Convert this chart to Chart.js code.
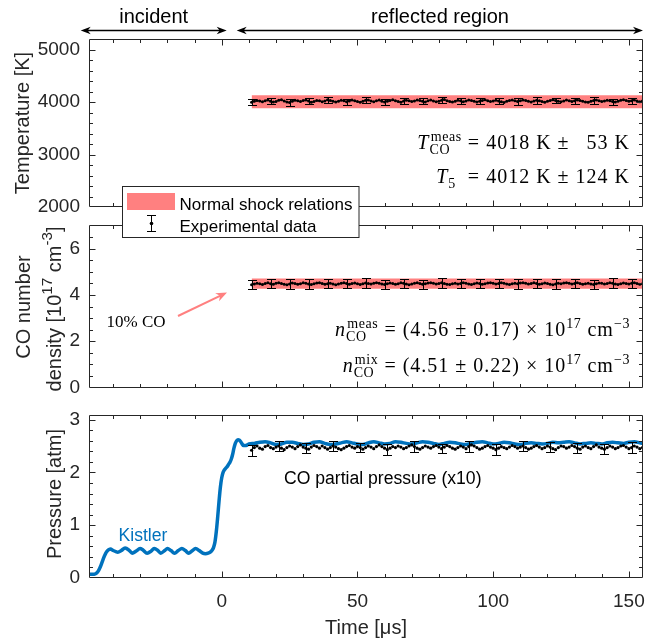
<!DOCTYPE html>
<html><head><meta charset="utf-8">
<script src="https://cdn.jsdelivr.net/npm/chart.js@4.4.1/dist/chart.umd.min.js"></script>
<style>
html,body{margin:0;padding:0;background:#fff;}
#wrap{position:relative;width:665px;height:642px;overflow:hidden;background:#fff;}
canvas{position:absolute;left:0;}
</style></head><body>
<div id="wrap">
<canvas id="c3" width="665" height="247" style="top:395px;z-index:1"></canvas>
<canvas id="c2" width="665" height="203" style="top:205px;z-index:2"></canvas>
<canvas id="c1" width="665" height="245" style="top:0px;z-index:3"></canvas>
</div>
<script>
// ---------------- data ----------------
const measStart = 11; // first measured time [μs], 1 μs spacing
const temperatureK = [
 3995,4012,4030,4018,4005,4026,4040,4015,3998,4010,
 4032,4045,4020,4002,3990,4015,4035,4022,4008,4028,
 4040,4018,3996,4010,4030,4024,4006,4020,4042,4030,
 4012,3998,4016,4034,4026,4004,4018,4038,4022,4008,
 3994,4014,4032,4040,4020,4006,4024,4036,4016,4000,
 4012,4030,4044,4026,4010,3996,4018,4034,4024,4008,
 4020,4040,4028,4012,4002,4022,4038,4018,4004,4016,
 4034,4046,4026,4010,3998,4014,4032,4022,4006,4020,
 4036,4028,4012,4000,4016,4030,4042,4024,4008,4018,
 4034,4020,4004,3992,4012,4028,4038,4022,4010,4026,
 4040,4030,4014,4000,4018,4032,4024,4008,3996,4014,
 4030,4044,4028,4012,4004,4020,4036,4026,4010,4022,
 4038,4030,4016,4002,3994,4012,4028,4040,4024,4010,
 4018,4034,4026,4008,4000,4016,4032,4044,4028,4014,
 4022,4036,4020,4006,4018];
const numberDensity = [
 4.44,4.47,4.50,4.48,4.45,4.49,4.52,4.48,4.46,4.50,
 4.53,4.49,4.46,4.44,4.47,4.51,4.49,4.46,4.48,4.52,
 4.50,4.47,4.45,4.48,4.51,4.53,4.49,4.46,4.48,4.50,
 4.47,4.44,4.47,4.50,4.52,4.49,4.46,4.49,4.51,4.48,
 4.45,4.48,4.51,4.49,4.47,4.50,4.53,4.50,4.47,4.45,
 4.48,4.51,4.49,4.46,4.48,4.52,4.50,4.47,4.44,4.47,
 4.50,4.52,4.49,4.46,4.48,4.51,4.53,4.50,4.47,4.49,
 4.52,4.49,4.46,4.45,4.48,4.50,4.47,4.49,4.52,4.50,
 4.47,4.45,4.48,4.51,4.49,4.46,4.48,4.51,4.53,4.50,
 4.47,4.49,4.52,4.50,4.47,4.45,4.48,4.50,4.48,4.51,
 4.53,4.50,4.47,4.49,4.52,4.49,4.46,4.48,4.51,4.49,
 4.46,4.44,4.47,4.50,4.48,4.51,4.53,4.50,4.47,4.49,
 4.52,4.49,4.46,4.48,4.50,4.47,4.45,4.48,4.51,4.50,
 4.47,4.49,4.52,4.50,4.47,4.45,4.48,4.51,4.49,4.47,
 4.50,4.52,4.49,4.46,4.48];
const coPartialPressure = [
 2.42,2.47,2.50,2.46,2.44,2.49,2.51,2.47,2.45,2.48,
 2.50,2.46,2.43,2.47,2.50,2.48,2.45,2.49,2.52,2.48,
 2.46,2.44,2.48,2.51,2.49,2.46,2.50,2.47,2.44,2.47,
 2.50,2.48,2.45,2.43,2.46,2.49,2.51,2.48,2.46,2.49,
 2.47,2.44,2.47,2.50,2.48,2.45,2.49,2.52,2.49,2.46,
 2.43,2.46,2.49,2.47,2.50,2.48,2.45,2.47,2.50,2.52,
 2.49,2.46,2.44,2.47,2.50,2.48,2.46,2.49,2.51,2.48,
 2.45,2.48,2.51,2.49,2.46,2.44,2.47,2.50,2.48,2.45,
 2.49,2.52,2.50,2.47,2.44,2.46,2.49,2.51,2.48,2.46,
 2.43,2.46,2.49,2.47,2.45,2.48,2.51,2.49,2.46,2.48,
 2.50,2.47,2.44,2.46,2.49,2.51,2.48,2.45,2.47,2.50,
 2.48,2.45,2.43,2.47,2.50,2.49,2.46,2.48,2.51,2.49,
 2.46,2.44,2.48,2.50,2.47,2.45,2.49,2.52,2.48,2.46,
 2.44,2.47,2.50,2.48,2.45,2.47,2.50,2.51,2.48,2.45,
 2.47,2.50,2.48,2.45,2.47];
const measTime = temperatureK.map((_, i) => measStart + i);

// error bars (half widths), one every 7 points (T, n) and every 10 points (p)
const errEveryTN = 7, errEveryP = 10;
const errTemperature = [60,55,58,62,57,60,56,59,63,58,55,61,57,60,58,62,56,59,61,57,60];
const errDensity = [0.20,0.19,0.21,0.20,0.19,0.20,0.21,0.20,0.19,0.20,0.21,0.19,0.20,0.20,0.21,0.19,0.20,0.20,0.19,0.21,0.20];
const errPressure = [0.10,0.09,0.10,0.10,0.09,0.10,0.10,0.09,0.10,0.10,0.09,0.10,0.10,0.09,0.10];

// normal shock relation bands [low, high]
const bandStart = 11;
const shockBandT = [3880, 4128];
const shockBandN = [4.27, 4.71];

// Kistler pressure trace [time μs, pressure atm]
const kistler = [
 [-48.9,0.07],[-48,0.07],[-47,0.07],[-46.5,0.08],[-46,0.10],[-45.5,0.13],[-45,0.18],[-44.5,0.24],
 [-44,0.31],[-43.5,0.38],[-43,0.44],[-42.5,0.49],[-42,0.52],[-41.5,0.54],[-41,0.55],[-40,0.52],
 [-39,0.50],[-38.3,0.49],[-37,0.52],[-35.6,0.57],[-34,0.52],[-33,0.47],[-31.5,0.51],[-30.1,0.56],
 [-29,0.53],[-27.5,0.47],[-26,0.51],[-24.9,0.56],[-23.5,0.52],[-22.5,0.47],[-21,0.52],[-20,0.56],
 [-18.7,0.52],[-17.4,0.47],[-16,0.52],[-14.7,0.56],[-13.4,0.52],[-12.2,0.47],[-11,0.51],[-9.6,0.56],
 [-8.3,0.52],[-7,0.47],[-6,0.46],[-5,0.47],[-4,0.50],[-3.5,0.53],[-3,0.58],[-2.5,0.68],
 [-2,0.88],[-1.5,1.15],[-1,1.45],[-0.5,1.72],[0,1.90],[0.5,2.00],[1,2.05],[1.5,2.08],
 [2,2.11],[2.5,2.15],[3,2.19],[3.5,2.25],[4,2.34],[4.5,2.46],[5,2.55],[5.5,2.60],
 [6,2.62],[6.5,2.61],[7,2.58],[7.5,2.54],[8,2.51],[9,2.51],[10,2.54],
 [12,2.55],[14,2.57],[16,2.58],[18,2.56],[20,2.53],[22,2.54],[24,2.57],[26,2.57],[28,2.55],[30,2.53],
 [32,2.54],[34,2.57],[36,2.58],[38,2.55],[40,2.53],[42,2.54],[44,2.56],[46,2.58],[48,2.56],[50,2.54],
 [52,2.53],[54,2.56],[56,2.58],[58,2.56],[60,2.54],[62,2.55],[64,2.58],[66,2.57],[68,2.55],[70,2.54],
 [72,2.56],[74,2.58],[76,2.57],[78,2.55],[80,2.53],[82,2.55],[84,2.57],[86,2.56],[88,2.54],[90,2.53],
 [92,2.55],[94,2.57],[96,2.58],[98,2.56],[100,2.54],[102,2.55],[104,2.57],[106,2.56],[108,2.54],[110,2.53],
 [112,2.55],[114,2.56],[116,2.55],[118,2.54],[120,2.55],[122,2.57],[124,2.56],[126,2.57],[128,2.58],[130,2.56],
 [132,2.54],[134,2.55],[136,2.56],[138,2.55],[140,2.54],[142,2.56],[144,2.57],[146,2.56],[148,2.55],[150,2.57],
 [152,2.58],[154,2.56],[155.2,2.55]];

// axes
const xMin = -48.9, xMax = 155.2;
const xTickLabels = [0, 50, 100, 150];
const yTicksT = [2000, 3000, 4000, 5000];
const yTicksN = [0, 2, 4, 6];
const yTicksP = [0, 1, 2, 3];

// ---------------- helpers ----------------
function range(a, b, s) { const r = []; for (let v = a; v <= b + 1e-9; v += s) r.push(+v.toFixed(4)); return r; }
const notIn = arr => v => !arr.some(m => Math.abs(m - v) < 1e-6);
const xMinorTicks = range(-40, 150, 10).filter(notIn(xTickLabels));
const SANS = '"Liberation Sans", Arial, sans-serif';
const SERIF = '"Liberation Serif", "Times New Roman", serif';
const INK = '#262626';

function drawFrame(chart, yMaj, yMin) {
  const ctx = chart.ctx, a = chart.chartArea, xs = chart.scales.x, ys = chart.scales.y;
  const L = Math.round(a.left) + 0.5, R = Math.round(a.right) - 0.5, T = Math.round(a.top) + 0.5, B = Math.round(a.bottom) - 0.5;
  ctx.save(); ctx.strokeStyle = INK; ctx.lineWidth = 1; ctx.beginPath();
  const xt = (vals, len) => vals.forEach(v => { const p = Math.round(xs.getPixelForValue(v)) + 0.5; ctx.moveTo(p, B); ctx.lineTo(p, B - len); ctx.moveTo(p, T); ctx.lineTo(p, T + len); });
  const yt = (vals, len) => vals.forEach(v => { const p = Math.round(ys.getPixelForValue(v)) + 0.5; if (p < T + 1 || p > B - 1) return; ctx.moveTo(L, p); ctx.lineTo(L + len, p); ctx.moveTo(R, p); ctx.lineTo(R - len, p); });
  xt(xTickLabels, 6); xt(xMinorTicks, 3.5); yt(yMaj, 6); yt(yMin, 3.5);
  ctx.rect(L, T, R - L, B - T);
  ctx.stroke(); ctx.restore();
}
function drawErrors(chart, vals, errs, every) {
  const ctx = chart.ctx, xs = chart.scales.x, ys = chart.scales.y;
  ctx.save(); ctx.strokeStyle = '#000'; ctx.lineWidth = 1; ctx.beginPath();
  errs.forEach((e, k) => {
    const i = k * every; const x = Math.round(xs.getPixelForValue(measTime[i])) + 0.5;
    const y1 = Math.round(ys.getPixelForValue(vals[i] - e)) + 0.5, y2 = Math.round(ys.getPixelForValue(vals[i] + e)) + 0.5;
    ctx.moveTo(x, y1); ctx.lineTo(x, y2);
    ctx.moveTo(x - 4.5, y1); ctx.lineTo(x + 4.5, y1); ctx.moveTo(x - 4.5, y2); ctx.lineTo(x + 4.5, y2);
  });
  ctx.stroke(); ctx.restore();
}
// spaced text (serif math look is wider than Times)
function spaced(ctx, s, x, y, ls, dry) {
  let w = 0;
  for (const ch of s) { if (!dry) ctx.fillText(ch, x + w, y); w += ctx.measureText(ch).width + ls; }
  return w;
}
function runMath(ctx, parts, x0, base, size, dry) {
  let x = x0; const ss = size * 0.7; const LS = 1.0, LSS = 0.6;
  for (const p of parts) {
    if (p.t !== undefined) {
      ctx.font = (p.it ? 'italic ' : '') + size + 'px ' + SERIF;
      x += spaced(ctx, p.t, x, base, LS, dry);
    } else if (p.gap) { x += p.gap * size + LS; }
    else {
      ctx.font = ss + 'px ' + SERIF; let w = 0;
      if (p.sup) { const dx = p.sub ? size * 0.06 : 0; w = Math.max(w, spaced(ctx, p.sup, x + dx, base - size * 0.42, LSS, dry) + dx); }
      if (p.sub) { w = Math.max(w, spaced(ctx, p.sub, x, base + size * 0.24, LSS, dry)); }
      x += w;
    }
  }
  return x - x0;
}
function mathRight(ctx, parts, xr, base, size) {
  ctx.save(); ctx.fillStyle = '#000'; ctx.textAlign = 'left'; ctx.textBaseline = 'alphabetic';
  const w = runMath(ctx, parts, 0, base, size, true);
  runMath(ctx, parts, xr - w, base, size, false);
  ctx.restore();
}
function vTitle(ctx, runs, xBase, yCenter, size) {
  ctx.save(); ctx.translate(xBase, yCenter); ctx.rotate(-Math.PI / 2);
  ctx.fillStyle = INK; ctx.textBaseline = 'alphabetic'; ctx.textAlign = 'left';
  const ss = size * 0.76; let w = 0;
  runs.forEach(r => { ctx.font = (r.sup ? ss : size) + 'px ' + SANS; w += ctx.measureText(r.sup || r.t).width; });
  let x = -w / 2;
  runs.forEach(r => {
    ctx.font = (r.sup ? ss : size) + 'px ' + SANS;
    const s = r.sup || r.t; ctx.fillText(s, x, r.sup ? -size * 0.45 : 0); x += ctx.measureText(s).width;
  });
  ctx.restore();
}
function arrowHead(ctx, x, y, ang, len, hw) {
  ctx.beginPath(); ctx.moveTo(x, y);
  ctx.lineTo(x - len * Math.cos(ang) + hw * Math.sin(ang), y - len * Math.sin(ang) - hw * Math.cos(ang));
  ctx.lineTo(x - len * 0.7 * Math.cos(ang), y - len * 0.7 * Math.sin(ang));
  ctx.lineTo(x - len * Math.cos(ang) - hw * Math.sin(ang), y - len * Math.sin(ang) + hw * Math.cos(ang));
  ctx.closePath(); ctx.fill();
}
function dblArrow(ctx, x1, x2, y) {
  ctx.save(); ctx.strokeStyle = '#000'; ctx.fillStyle = '#000'; ctx.lineWidth = 1.5;
  ctx.beginPath(); ctx.moveTo(x1 + 4, y); ctx.lineTo(x2 - 4, y); ctx.stroke();
  arrowHead(ctx, x2, y, 0, 10, 3.8); arrowHead(ctx, x1, y, Math.PI, 10, 3.8);
  ctx.restore();
}
function yScale(min, max, ticks) {
  return {
    type: 'linear', min, max,
    afterFit: s => { s.width = 89; },
    afterBuildTicks: s => { s.ticks = ticks.map(v => ({ value: v })); },
    grid: { display: false, drawTicks: false }, border: { display: false },
    ticks: { padding: 9, color: INK, font: { family: SANS, size: 19 }, callback: v => String(v) }
  };
}
function baseOptions(pad, xScale, yS) {
  return {
    responsive: false, animation: false, events: [],
    layout: { padding: pad },
    plugins: { legend: { display: false }, tooltip: { enabled: false } },
    scales: { x: xScale, y: yS }
  };
}
const hiddenX = { type: 'linear', min: xMin, max: xMax, display: false };
const bandSets = (band) => [
  { data: [{ x: bandStart, y: band[1] }, { x: xMax, y: band[1] }], showLine: true, borderWidth: 0, pointRadius: 0, fill: false, order: 1 },
  { data: [{ x: bandStart, y: band[0] }, { x: xMax, y: band[0] }], showLine: true, borderWidth: 0, pointRadius: 0, fill: '-1', backgroundColor: '#FF8080', order: 2 }
];
const measSet = (vals) => ({ data: measTime.map((t, i) => ({ x: t, y: vals[i] })), showLine: true, borderColor: '#000', borderWidth: 1, pointRadius: 1.5, pointBackgroundColor: '#000', pointBorderWidth: 0, order: 0 });

// ---------------- chart 1: temperature ----------------
new Chart(document.getElementById('c1'), {
  type: 'scatter',
  data: { datasets: [measSet(temperatureK), ...bandSets(shockBandT)] },
  options: baseOptions({ left: 0, right: 22, top: 39, bottom: 38 }, hiddenX, yScale(2000, 5200, yTicksT)),
  plugins: [{
    id: 'p1',
    afterDatasetsDraw(chart) {
      drawErrors(chart, temperatureK, errTemperature, errEveryTN);
      drawFrame(chart, yTicksT, range(2200, 5100, 200).filter(notIn(yTicksT)));
    },
    afterDraw(chart) {
      const ctx = chart.ctx;
      vTitle(ctx, [{ t: 'Temperature [K]' }], 29, 123, 20);
      mathRight(ctx, [{ t: 'T', it: 1 }, { sup: 'meas', sub: 'CO' }, { t: ' = 4018 K ± ' }, { gap: 0.5 }, { t: '53 K' }], 630, 149, 20);
      mathRight(ctx, [{ t: 'T', it: 1 }, { sub: '5' }, { t: '  = 4012 K ± 124 K' }], 630, 183, 20);
      // region labels
      ctx.save(); ctx.fillStyle = '#000'; ctx.font = '20px ' + SANS; ctx.textAlign = 'center'; ctx.textBaseline = 'alphabetic';
      ctx.fillText('incident', 153.7, 23); ctx.fillText('reflected region', 440, 23); ctx.restore();
      dblArrow(ctx, 80.7, 226.7, 30.5); dblArrow(ctx, 236.7, 643, 30.5);
      // legend
      ctx.save();
      ctx.fillStyle = '#fff'; ctx.fillRect(122.5, 186.5, 236.5, 51);
      ctx.strokeStyle = INK; ctx.lineWidth = 1; ctx.strokeRect(122.5, 186.5, 236.5, 51);
      ctx.fillStyle = '#FF8080'; ctx.fillRect(127, 193, 48, 17);
      ctx.strokeStyle = '#000'; ctx.beginPath();
      ctx.moveTo(151.5, 215); ctx.lineTo(151.5, 232); ctx.moveTo(147, 215.5); ctx.lineTo(156, 215.5); ctx.moveTo(147, 231.5); ctx.lineTo(156, 231.5); ctx.stroke();
      ctx.fillStyle = '#000'; ctx.beginPath(); ctx.arc(151.5, 223.5, 1.8, 0, Math.PI * 2); ctx.fill();
      ctx.font = '17px ' + SANS; ctx.textBaseline = 'alphabetic';
      ctx.fillText('Normal shock relations', 179.5, 209.5);
      ctx.fillText('Experimental data', 179.5, 232);
      ctx.restore();
    }
  }]
});

// ---------------- chart 2: CO number density ----------------
const TOP2 = 205;
new Chart(document.getElementById('c2'), {
  type: 'scatter',
  data: { datasets: [measSet(numberDensity), ...bandSets(shockBandN)] },
  options: baseOptions({ left: 0, right: 22, top: 20, bottom: 15 }, hiddenX, yScale(0, 7, yTicksN)),
  plugins: [{
    id: 'p2',
    afterDatasetsDraw(chart) {
      drawErrors(chart, numberDensity, errDensity, errEveryTN);
      drawFrame(chart, yTicksN, range(0.5, 6.5, 0.5).filter(notIn(yTicksN)));
    },
    afterDraw(chart) {
      const ctx = chart.ctx; ctx.save(); ctx.translate(0, -TOP2);
      vTitle(ctx, [{ t: 'CO number' }], 30, 307, 20);
      vTitle(ctx, [{ t: 'density [10' }, { sup: '17' }, { t: ' cm' }, { sup: '-3' }, { t: ']' }], 61, 309, 20);
      mathRight(ctx, [{ t: 'n', it: 1 }, { sup: 'meas', sub: 'CO' }, { t: ' = (4.56 ± 0.17) × 10' }, { sup: '17' }, { t: ' cm' }, { sup: '−3' }], 630, 336, 20);
      mathRight(ctx, [{ t: 'n', it: 1 }, { sup: 'mix', sub: 'CO' }, { t: ' = (4.51 ± 0.22) × 10' }, { sup: '17' }, { t: ' cm' }, { sup: '−3' }], 630, 372, 20);
      ctx.fillStyle = '#000'; ctx.font = '17px ' + SERIF; ctx.textBaseline = 'alphabetic'; ctx.textAlign = 'left';
      ctx.fillText('10% CO', 106.5, 327);
      ctx.strokeStyle = '#FF8080'; ctx.fillStyle = '#FF8080'; ctx.lineWidth = 2;
      const x1 = 178, y1 = 316, x2 = 227, y2 = 292.5, ang = Math.atan2(y2 - y1, x2 - x1);
      ctx.beginPath(); ctx.moveTo(x1, y1); ctx.lineTo(x2 - 6 * Math.cos(ang), y2 - 6 * Math.sin(ang)); ctx.stroke();
      arrowHead(ctx, x2, y2, ang, 11, 4.5);
      ctx.restore();
    }
  }]
});

// ---------------- chart 3: pressure ----------------
const TOP3 = 395;
new Chart(document.getElementById('c3'), {
  type: 'scatter',
  data: { datasets: [
    { data: kistler.map(p => ({ x: p[0], y: p[1] })), showLine: true, borderColor: '#0072BD', borderWidth: 3.5, pointRadius: 0, cubicInterpolationMode: 'monotone', order: 1 },
    { data: measTime.map((t, i) => ({ x: t, y: coPartialPressure[i] })), showLine: false, pointRadius: 1.6, pointBackgroundColor: '#000', pointBorderWidth: 0, order: 0 }
  ] },
  options: baseOptions({ left: 0, right: 22, top: 16, bottom: 0 }, {
    type: 'linear', min: xMin, max: xMax,
    afterFit: s => { s.height = 64; },
    afterBuildTicks: s => { s.ticks = xTickLabels.map(v => ({ value: v })); },
    grid: { display: false, drawTicks: false }, border: { display: false },
    ticks: { padding: 12, color: INK, font: { family: SANS, size: 19 }, autoSkip: false, maxRotation: 0, callback: v => String(v) },
    title: { display: true, text: 'Time [μs]', color: INK, font: { family: SANS, size: 20 }, padding: { top: 0, bottom: 2 } }
  }, yScale(0, 3.08, yTicksP)),
  plugins: [{
    id: 'p3',
    afterDatasetsDraw(chart) {
      drawErrors(chart, coPartialPressure, errPressure, errEveryP);
      drawFrame(chart, yTicksP, range(0.2, 2.8, 0.2).filter(notIn(yTicksP)));
    },
    afterDraw(chart) {
      const ctx = chart.ctx; ctx.save(); ctx.translate(0, -TOP3);
      vTitle(ctx, [{ t: 'Pressure [atm]' }], 61, 494, 20);
      ctx.textBaseline = 'alphabetic'; ctx.textAlign = 'left';
      ctx.font = '17.6px ' + SANS; ctx.fillStyle = '#000';
      ctx.fillText('CO partial pressure (x10)', 284, 484);
      ctx.fillStyle = '#0072BD'; ctx.fillText('Kistler', 118.5, 541);
      ctx.restore();
    }
  }]
});
</script>
</body></html>
